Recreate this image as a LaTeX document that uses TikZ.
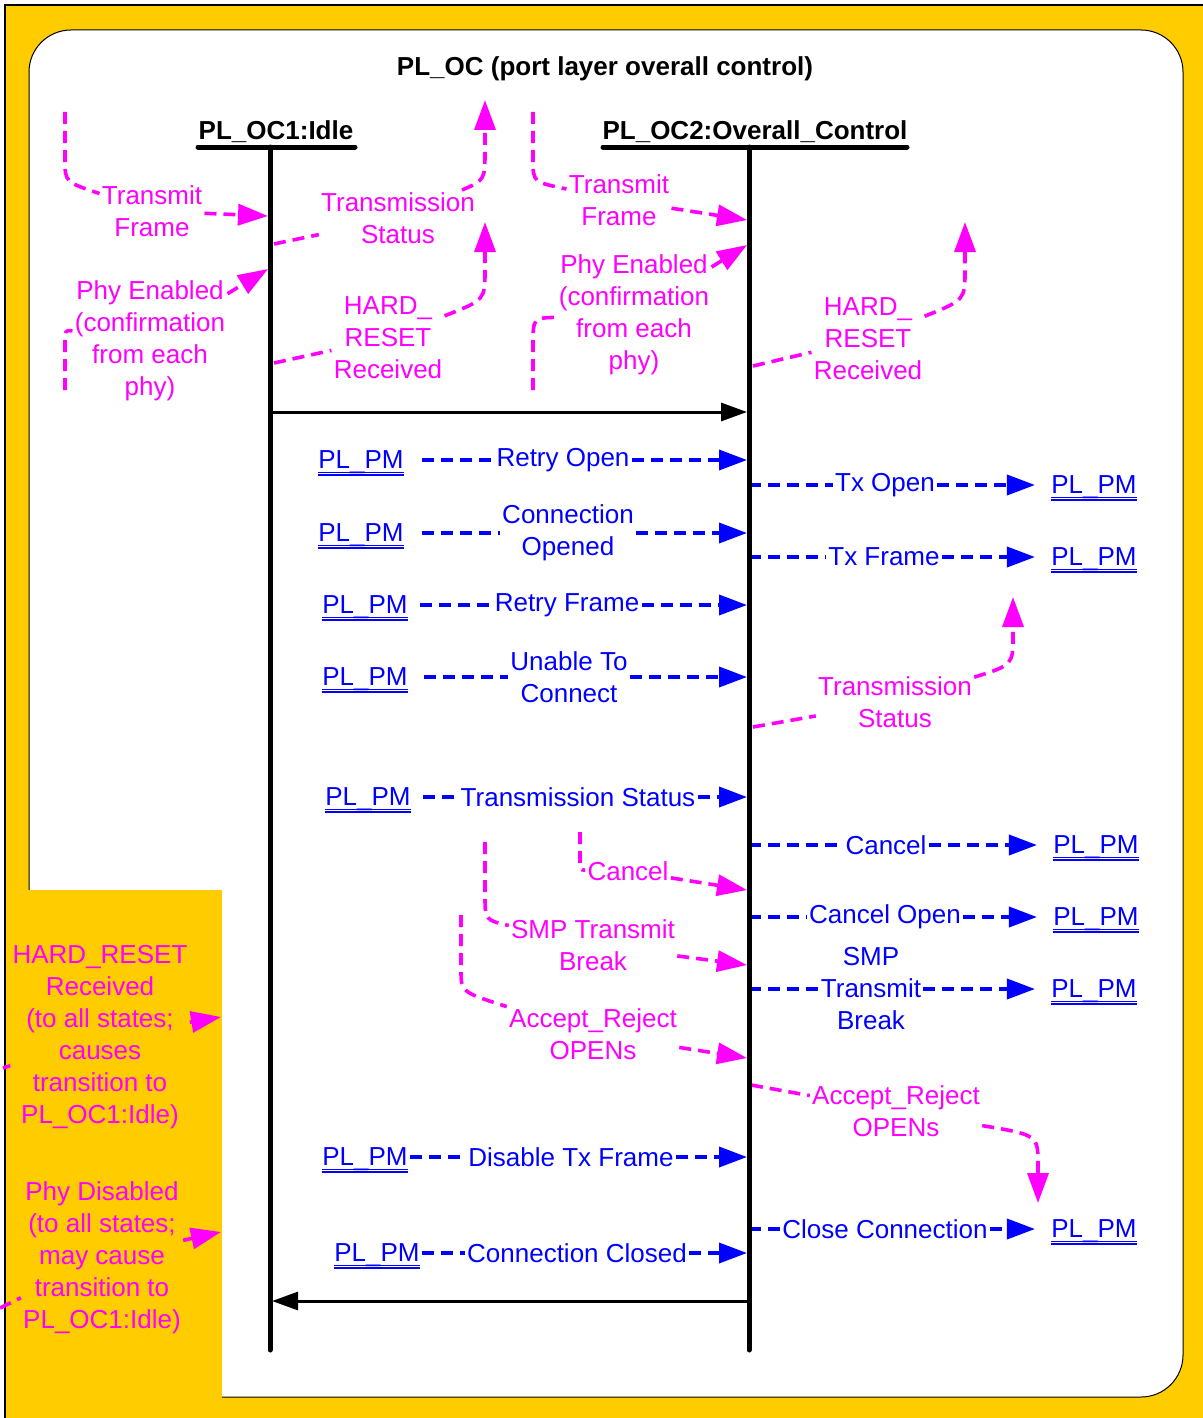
\documentclass[tikz,border=0pt]{standalone}
\usepackage{fontspec}
\setmainfont{Liberation Sans}
\usepackage{tikz}
\usetikzlibrary{arrows.meta}
\definecolor{plyellow}{HTML}{FFCC00}
\definecolor{plmagenta}{HTML}{FF00FF}
\definecolor{plblue}{HTML}{0000FF}
\newcommand{\pmref}[1]{\vtop{\hbox{\raisebox{0pt}[\height][0pt]{#1}}\kern1.4pt\hrule height0.75pt\kern0.5pt\hrule height0.75pt}}

\begin{document}
\begin{tikzpicture}[x=0.5pt,y=-0.5pt,
    every node/.style={font=\fontsize{13}{16}\selectfont,inner sep=1pt},
    boldtext/.style={font=\fontsize{13}{16}\selectfont\bfseries},
    mlabel/.style={text=plmagenta,align=center},
    blabel/.style={text=plblue,align=center},
    pmnode/.style={text=plblue,text depth=0pt},
    statebar/.style={line width=2.5pt,line cap=round},
    mline/.style={draw=plmagenta,line width=1.8pt,dash pattern=on 6pt off 3.5pt,-{Triangle[length=15pt,width=10.5pt]}},
    bline/.style={draw=plblue,line width=1.8pt,dash pattern=on 6pt off 3.5pt},
    bhead/.style={-{Triangle[length=14pt,width=10pt]}},
    karrow/.style={line width=1.5pt,-{Triangle[length=13pt,width=9pt]}}]

  \useasboundingbox (0,0) rectangle (1203,1418);
  % background
  \fill[plyellow] (5,5) rectangle (1203,1418);
  \filldraw[fill=white,draw=black,line width=0.5pt,rounded corners=21pt] (29,30) rectangle (1183,1397);
  \fill[plyellow] (5,890) rectangle (222,1418);
  \draw[line width=0.6pt] (5,1418) -- (5,5) -- (1203,5);

  % titles and states
  \node[boldtext] (title) at (605,69) {PL\_OC (port layer overall control)};
  \node[boldtext] (idle) at (276,132) {PL\_OC1:Idle};
  \node[boldtext] (ctrl) at (755,132) {PL\_OC2:Overall\_Control};
  \coordinate (s1) at (270,147);
  \coordinate (s1end) at (270,1350);
  \coordinate (s2) at (749,147);
  \coordinate (s2end) at (749,1350);

  % into PL_OC1:Idle
  \node[mlabel] (tf1) at (152,211) {Transmit\\Frame};
  \coordinate (tf1in) at (65,112);
  \coordinate (tf1end) at (268,216);
  \draw[mline] (tf1in) -- (65,160) .. controls (65,182) .. (tf1) -- (tf1end);
  \node[mlabel] (pe1) at (150,341) {Phy Enabled\\(confirmation\\from each\\phy)};
  \coordinate (pe1in) at (65,390);
  \coordinate (pe1end) at (268,269);
  \draw[mline] (pe1in) -- (65,345) .. controls (65,330) .. (pe1) -- (pe1end);

  % out of PL_OC1:Idle
  \node[mlabel] (ts1) at (398,218) {Transmission\\Status};
  \coordinate (ts1out) at (274,244);
  \coordinate (ts1end) at (485,100);
  \draw[mline] (ts1out) -- (ts1) .. controls (485,180) .. (485,150) -- (ts1end);
  \node[mlabel] (hr1) at (388,338) {HARD\_\\RESET\\Received};
  \coordinate (hr1out) at (274,363);
  \coordinate (hr1end) at (485,222);
  \draw[mline] (hr1out) -- (hr1) .. controls (485,300) .. (485,270) -- (hr1end);

  % into PL_OC2:Overall_Control
  \node[mlabel] (tf2) at (619,200) {Transmit\\Frame};
  \coordinate (tf2in) at (533,112);
  \coordinate (tf2end) at (747,220);
  \draw[mline] (tf2in) -- (533,160) .. controls (533,182) .. (tf2) -- (tf2end);
  \node[mlabel] (pe2) at (634,315) {Phy Enabled\\(confirmation\\from each\\phy)};
  \coordinate (pe2in) at (533,390);
  \coordinate (pe2end) at (747,245);
  \draw[mline] (pe2in) -- (533,345) .. controls (533,318) .. (pe2) -- (pe2end);

  % out of PL_OC2:Overall_Control
  \node[mlabel] (hr2) at (868,339) {HARD\_\\RESET\\Received};
  \coordinate (hr2out) at (753,366);
  \coordinate (hr2end) at (965,222);
  \draw[mline] (hr2out) -- (hr2) .. controls (965,300) .. (965,270) -- (hr2end);
  \node[mlabel] (ts2) at (895,702) {Transmission\\Status};
  \coordinate (ts2out) at (753,727);
  \coordinate (ts2end) at (1013,597);
  \draw[mline] (ts2out) -- (ts2) .. controls (1013,665) .. (1013,635) -- (ts2end);

  % messages from PL_PM
  \node[pmnode] (pmro) at (361,460) {\pmref{PL\_PM}};
  \node[blabel] (ro) at (563,460) {Retry Open};
  \draw[bline,shorten <=8pt] (pmro) -- (ro);
  \draw[bline,bhead,shorten >=1pt] (ro) -- (ro.east -| s2);
  \node[pmnode] (pmco) at (361,533) {\pmref{PL\_PM}};
  \node[blabel] (co) at (568,533) {Connection\\Opened};
  \draw[bline,shorten <=8pt] (pmco) -- (co);
  \draw[bline,bhead,shorten >=1pt] (co) -- (co.east -| s2);
  \node[pmnode] (pmrf) at (365,605) {\pmref{PL\_PM}};
  \node[blabel] (rf) at (567,605) {Retry Frame};
  \draw[bline,shorten <=5pt] (pmrf) -- (rf);
  \draw[bline,bhead,shorten >=1pt] (rf) -- (rf.east -| s2);
  \node[pmnode] (pmuc) at (365,677) {\pmref{PL\_PM}};
  \node[blabel] (uc) at (569,677) {Unable To\\Connect};
  \draw[bline,shorten <=7pt] (pmuc) -- (uc);
  \draw[bline,bhead,shorten >=1pt] (uc) -- (uc.east -| s2);
  \node[pmnode] (pmst) at (368,797) {\pmref{PL\_PM}};
  \node[blabel] (st) at (578,797) {Transmission Status};
  \draw[bline,shorten <=5pt] (pmst) -- (st);
  \draw[bline,bhead,shorten >=1pt] (st) -- (st.east -| s2);
  \node[pmnode] (pmdt) at (365,1157) {\pmref{PL\_PM}};
  \node[blabel] (dt) at (571,1157) {Disable Tx Frame};
  \draw[bline] (pmdt) -- (dt);
  \draw[bline,bhead,shorten >=1pt] (dt) -- (dt.east -| s2);
  \node[pmnode] (pmcc) at (377,1253) {\pmref{PL\_PM}};
  \node[blabel] (cc) at (577,1253) {Connection Closed};
  \draw[bline] (pmcc) -- (cc);
  \draw[bline,bhead,shorten >=1pt] (cc) -- (cc.east -| s2);

  % messages to PL_PM
  \node[blabel] (txo) at (885,485) {Tx Open};
  \node[pmnode] (pmtxo) at (1094,485) {\pmref{PL\_PM}};
  \draw[bline] (txo.west -| s2) -- (txo);
  \draw[bline,bhead,shorten >=7pt] (txo) -- (pmtxo);
  \node[blabel] (txf) at (884,557) {Tx Frame};
  \node[pmnode] (pmtxf) at (1094,557) {\pmref{PL\_PM}};
  \draw[bline] (txf.west -| s2) -- (txf);
  \draw[bline,bhead,shorten >=7pt] (txf) -- (pmtxf);
  \node[blabel] (cn) at (886,845) {Cancel};
  \node[pmnode] (pmcn) at (1096,845) {\pmref{PL\_PM}};
  \draw[bline] (cn.west -| s2) -- (cn);
  \draw[bline,bhead,shorten >=7pt] (cn) -- (pmcn);
  \node[blabel] (cno) at (885,917) {Cancel Open};
  \node[pmnode] (pmcno) at (1096,917) {\pmref{PL\_PM}};
  \draw[bline] (cno.west -| s2) -- (cno);
  \draw[bline,bhead,shorten >=7pt] (cno) -- (pmcno);
  \node[blabel] (smp) at (871,989) {SMP\\Transmit\\Break};
  \node[pmnode] (pmsmp) at (1094,989) {\pmref{PL\_PM}};
  \draw[bline] (smp.west -| s2) -- (smp);
  \draw[bline,bhead,shorten >=7pt] (smp) -- (pmsmp);
  \node[blabel] (clc) at (885,1229) {Close Connection};
  \node[pmnode] (pmclc) at (1094,1229) {\pmref{PL\_PM}};
  \draw[bline] (clc.west -| s2) -- (clc);
  \draw[bline,bhead,shorten >=7pt] (clc) -- (pmclc);

  % lower transitions into PL_OC2:Overall_Control
  \node[mlabel] (can1) at (628,871) {Cancel};
  \coordinate (can1in) at (580,832);
  \coordinate (can1end) at (747,890);
  \draw[mline] (can1in) -- (580,858) .. controls (580,870) .. (can1) -- (can1end);
  \node[mlabel] (smp1) at (593,945) {SMP Transmit\\Break};
  \coordinate (smp1in) at (485,842);
  \coordinate (smp1end) at (747,965);
  \draw[mline] (smp1in) -- (485,895) .. controls (485,920) .. (smp1) -- (smp1end);
  \node[mlabel] (ar1) at (593,1034) {Accept\_Reject\\OPENs};
  \coordinate (ar1in) at (461,915);
  \coordinate (ar1end) at (747,1058);
  \draw[mline] (ar1in) -- (461,970) .. controls (461,992) .. (ar1) -- (ar1end);
  \node[mlabel] (ar2) at (896,1111) {Accept\_Reject\\OPENs};
  \coordinate (ar2out) at (751,1085);
  \coordinate (ar2end) at (1038,1203);
  \draw[mline] (ar2out) -- (ar2) .. controls (1038,1135) .. (1038,1165) -- (ar2end);

  % to all states
  \node[mlabel] (hrall) at (100,1037) {HARD\_RESET\\Received\\(to all states;\\causes\\transition to\\PL\_OC1:Idle)};
  \coordinate (hrallin) at (3,1068);
  \coordinate (hrallend) at (221,1017);
  \draw[mline] (hrallin) -- (hrall) -- (hrallend);
  \node[mlabel] (phyoff) at (102,1258) {Phy Disabled\\(to all states;\\may cause\\transition to\\PL\_OC1:Idle)};
  \coordinate (phyoffin) at (0,1308);
  \coordinate (phyoffend) at (221,1232);
  \draw[mline] (phyoffin) -- (phyoff) -- (phyoffend);

  % state lines
  \draw[statebar] (198,147) -- (355,147);
  \draw[statebar] (603,147) -- (907,147);
  \draw[statebar] (s1) -- (s1end);
  \draw[statebar] (s2) -- (s2end);
  \coordinate (go) at (270,412);
  \draw[karrow,shorten >=1pt] (go) -- (go -| s2);
  \coordinate (back) at (749,1301);
  \draw[karrow,shorten >=1pt] (back) -- (back -| s1);
\end{tikzpicture}
\end{document}
